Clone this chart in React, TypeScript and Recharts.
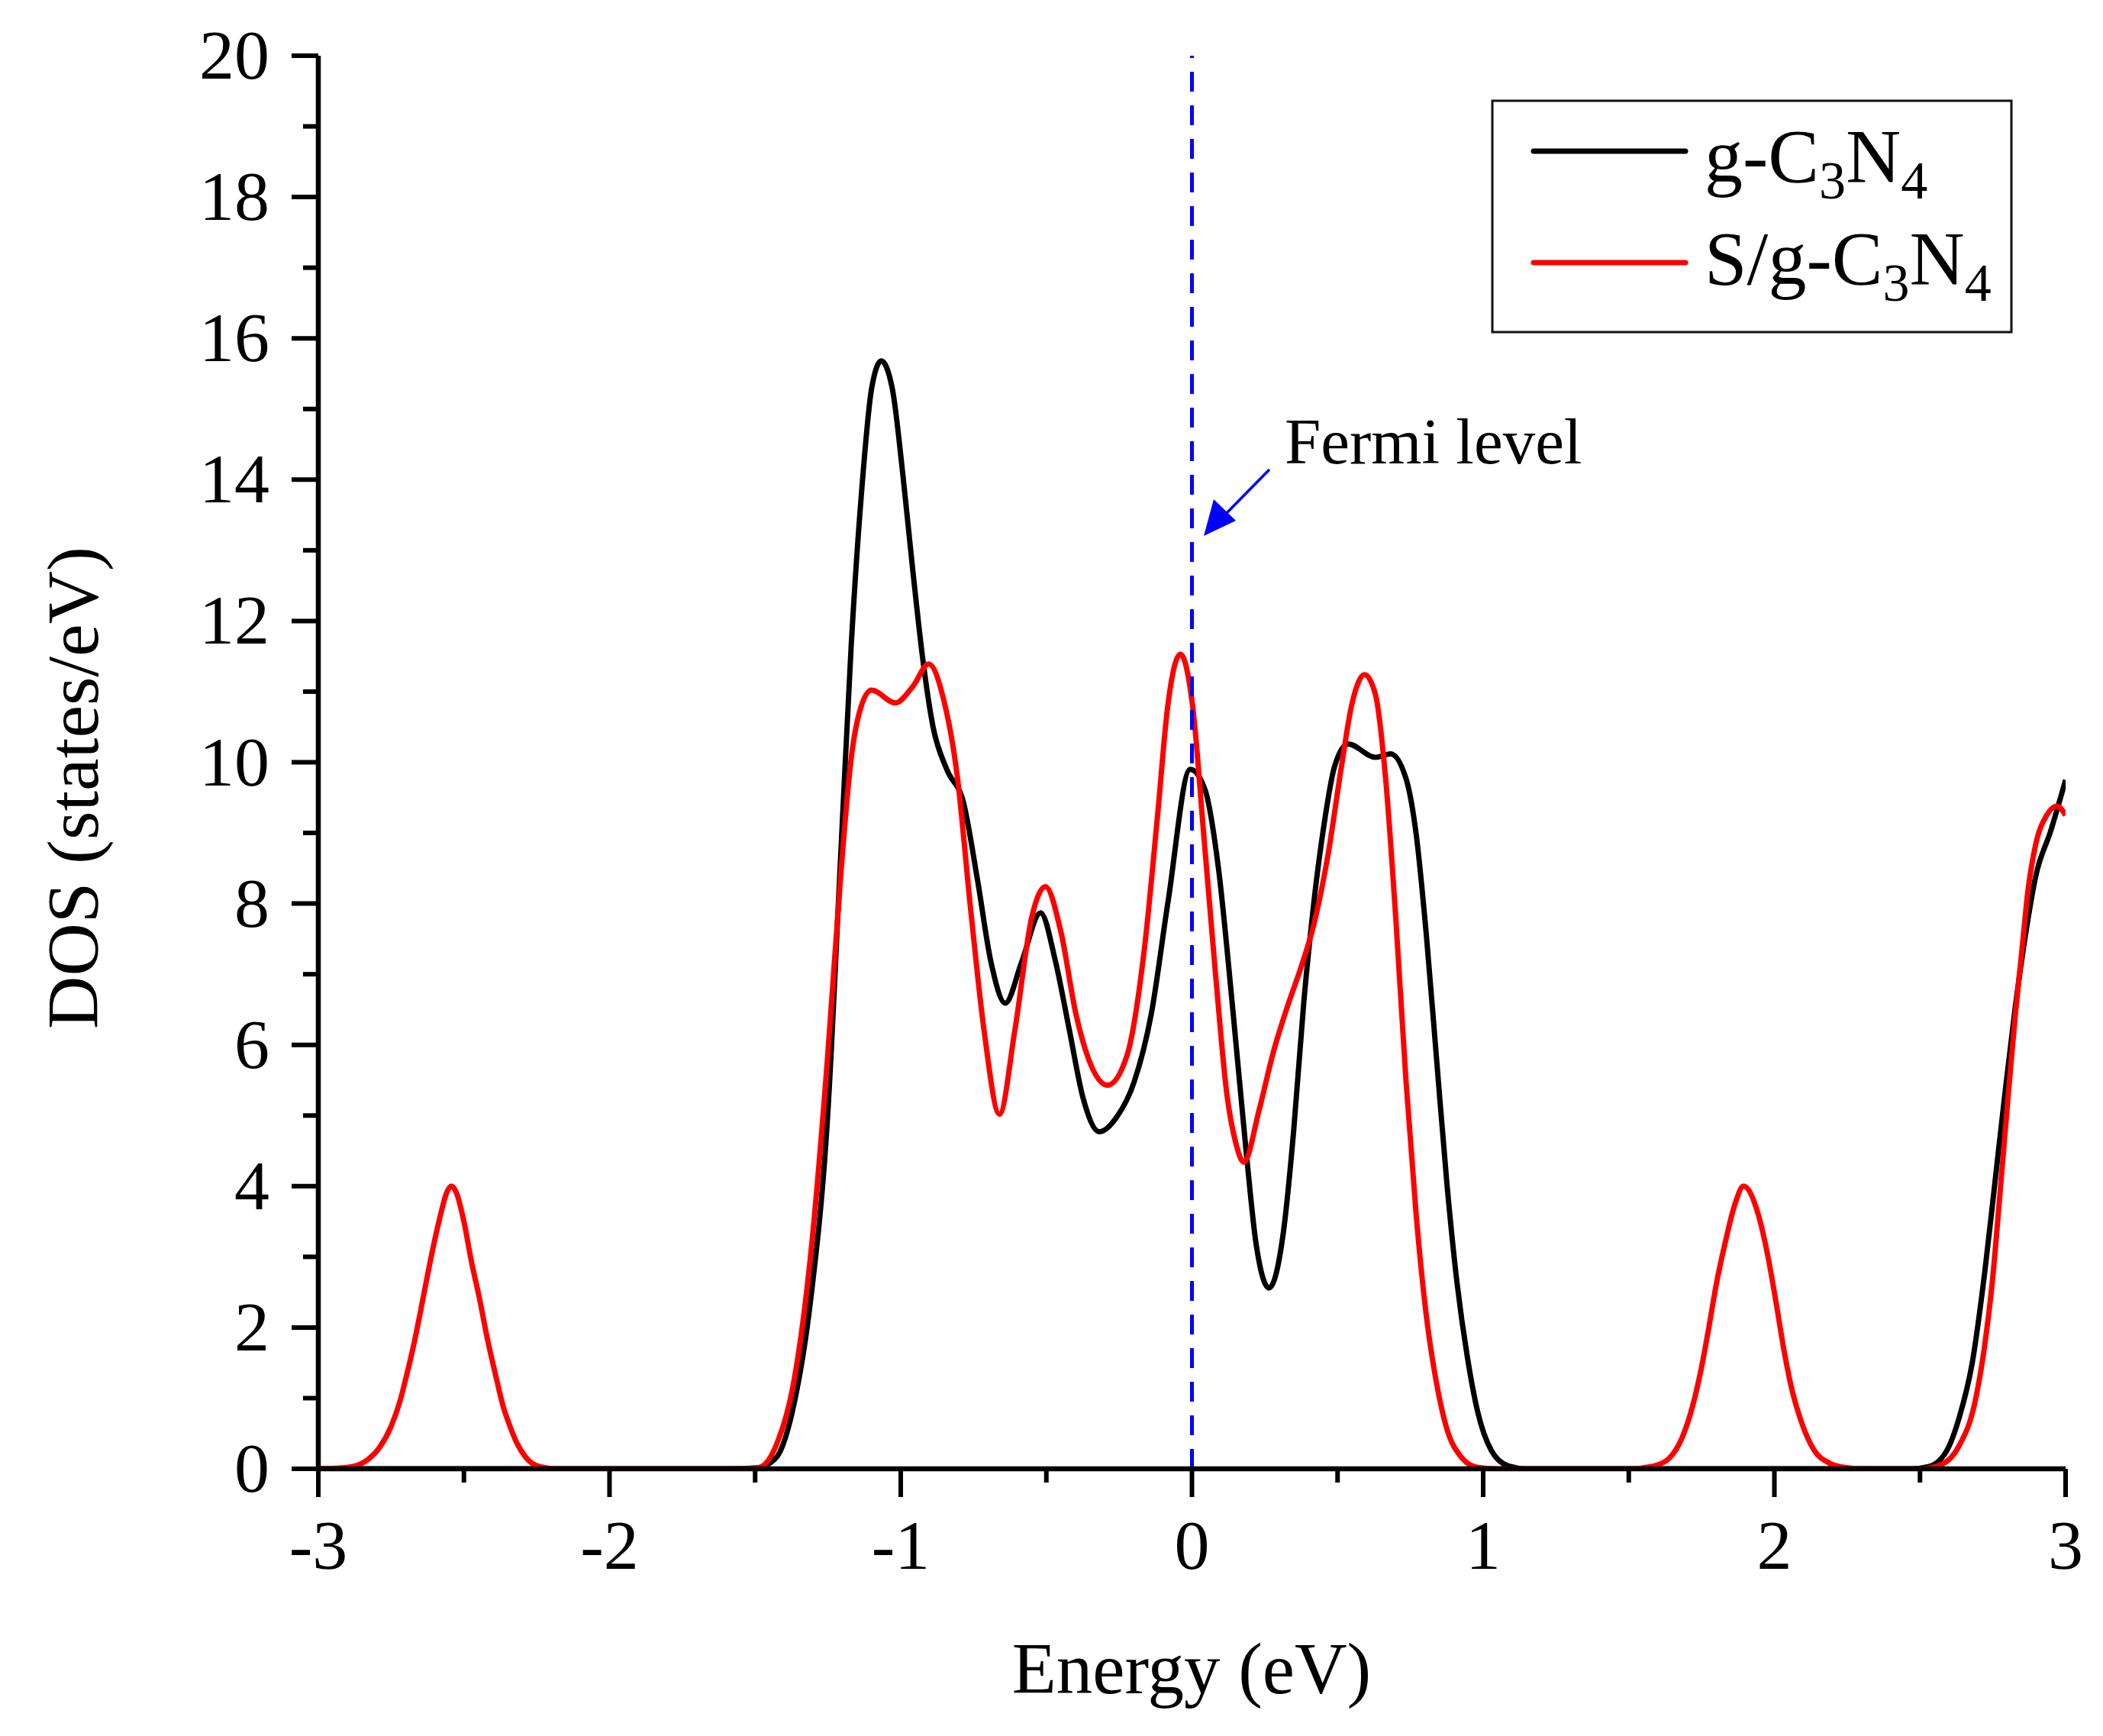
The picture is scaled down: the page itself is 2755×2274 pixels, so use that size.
import React from 'react';
import { LineChart, Line, XAxis, YAxis, ReferenceLine } from 'recharts';

// g-C3N4 (black)
const energyPure = [
  -3.0, -1.6, -1.5, -1.45, -1.416, -1.369, -1.31, -1.252, -1.205, -1.17, -1.135, -1.1, -1.067,
  -1.029, -0.994, -0.959, -0.924, -0.889, -0.842, -0.784, -0.737, -0.69, -0.641, -0.585, -0.52,
  -0.468, -0.421, -0.374, -0.318, -0.258, -0.199, -0.14, -0.082, -0.006, 0.045, 0.091, 0.138,
  0.185, 0.22, 0.265, 0.314, 0.349, 0.384, 0.419, 0.454, 0.489, 0.536, 0.63, 0.682, 0.735, 0.77,
  0.805, 0.84, 0.875, 0.91, 0.945, 0.981, 1.028, 1.087, 1.15, 2.47, 2.53, 2.591, 2.635, 2.679,
  2.722, 2.757, 2.792, 2.827, 2.862, 2.897, 2.949, 3.0,
];
const dosPure = [
  0, 0, 0.01, 0.08, 0.23, 0.87, 2.37, 4.93, 8.78, 11.66, 13.8, 15.29, 15.68,
  15.29, 14.12, 12.73, 11.45, 10.5, 9.9, 9.42, 8.35, 7.17, 6.59, 7.17, 7.87,
  7.17, 6.21, 5.25, 4.77, 4.98, 5.47, 6.43, 8.03, 9.9, 9.61, 8.5, 6.6,
  4.54, 3.19, 2.56, 3.35, 4.77, 6.6, 8.03, 9.13, 9.93, 10.26, 10.07, 10.12, 9.77, 8.98,
  7.55, 5.8, 4.06, 2.64, 1.6, 0.81, 0.26, 0.04, 0, 0, 0.03, 0.25, 0.73, 1.49,
  2.77, 4.04, 5.32, 6.53, 7.55, 8.38, 9.03, 9.75,
];

// S/g-C3N4 (red)
const energyDoped = [
  -3.0, -2.9, -2.83, -2.79, -2.75, -2.72, -2.7, -2.67, -2.64, -2.61, -2.58, -2.56, -2.543,
  -2.525, -2.5, -2.475, -2.447, -2.42, -2.388, -2.365, -2.347, -2.32, -2.287, -2.24, -2.18,
  -1.55, -1.486, -1.427, -1.369, -1.31, -1.252, -1.205, -1.17,
  -1.135, -1.1, -1.018, -0.959, -0.904, -0.854, -0.807, -0.76, -0.714, -0.661, -0.608, -0.55,
  -0.503, -0.45, -0.398, -0.355, -0.29, -0.223, -0.165, -0.118, -0.083, -0.04, 0.005, 0.04,
  0.081, 0.12, 0.15, 0.178, 0.232, 0.279, 0.326, 0.373, 0.419, 0.466, 0.513, 0.548, 0.593,
  0.63, 0.665, 0.7, 0.735, 0.77, 0.805, 0.84, 0.875, 0.922, 0.981, 1.05,
  1.5, 1.586, 1.639, 1.683, 1.718, 1.748, 1.775, 1.8, 1.831, 1.865, 1.894, 1.944, 1.98, 2.006,
  2.032, 2.058, 2.093, 2.137, 2.189, 2.24, 2.3,
  2.5, 2.573, 2.635, 2.687, 2.722, 2.748, 2.775, 2.801, 2.827, 2.849, 2.871, 2.897, 2.935,
  2.971, 3.0,
];
const dosDoped = [
  0, 0.02, 0.13, 0.3, 0.6, 0.95, 1.27, 1.8, 2.42, 3.05, 3.6, 3.9, 4.0,
  3.9, 3.5, 2.95, 2.42, 1.85, 1.27, 0.88, 0.66, 0.38, 0.16, 0.03, 0,
  0, 0.02, 0.34, 1.19, 3.0, 5.78, 8.46, 10.06,
  10.8, 11.02, 10.84, 11.07, 11.39, 10.91, 9.84, 7.92, 6.21, 5.02, 6.21, 7.81,
  8.24, 7.6, 6.43, 5.8, 5.43, 5.85, 7.3, 9.25, 10.8, 11.53, 10.7, 9.0,
  7.0, 5.3, 4.62, 4.34, 5.1, 5.89, 6.52, 7.08, 7.71, 8.66, 9.93, 10.8, 11.24,
  10.96, 9.77, 7.79, 5.49, 3.59, 2.16, 1.21, 0.57, 0.18, 0.02, 0,
  0, 0.04, 0.15, 0.44, 0.87, 1.4, 2.0, 2.6, 3.2, 3.75, 4.0, 3.61, 2.96, 2.35,
  1.7, 1.16, 0.66, 0.26, 0.08, 0.02, 0,
  0, 0.06, 0.33, 0.91, 1.74, 2.63, 3.91, 5.19, 6.41, 7.3, 8.19, 8.83, 9.25,
  9.38, 9.25,
];

const xTicks = [-3, -2.5, -2, -1.5, -1, -0.5, 0, 0.5, 1, 1.5, 2, 2.5, 3];
const yTicks = [0, 1, 2, 3, 4, 5, 6, 7, 8, 9, 10, 11, 12, 13, 14, 15, 16, 17, 18, 19, 20];

const pureData = energyPure.map((e, i) => ({ e, v: dosPure[i] }));
const dopedData = energyDoped.map((e, i) => ({ e, v: dosDoped[i] }));

const FONT = 'Liberation Serif, Times New Roman, serif';

const XTick = (props: any) => {
  const { x, y, payload } = props;
  const major = Number.isInteger(payload.value);
  return (
    <g>
      <line x1={x} x2={x} y1={y} y2={y + (major ? 37 : 18)} stroke="#000" strokeWidth={6} />
      {major && (
        <text x={x} y={y + 131} textAnchor="middle" fontFamily={FONT} fontSize={92} fill="#000">
          {payload.value}
        </text>
      )}
    </g>
  );
};

const YTick = (props: any) => {
  const { x, y, payload } = props;
  const major = payload.value % 2 === 0;
  return (
    <g>
      <line x1={x} x2={x - (major ? 35 : 20)} y1={y} y2={y} stroke="#000" strokeWidth={6} />
      {major && (
        <text x={x - 64} y={y + 30} textAnchor="end" fontFamily={FONT} fontSize={92} fill="#000">
          {payload.value}
        </text>
      )}
    </g>
  );
};

export default function App() {
  return (
    <div style={{ position: 'relative', width: 2740, height: 2258, background: '#fff' }}>
      <LineChart
        width={2740}
        height={2258}
        margin={{ top: 65, right: 42, bottom: 192, left: 0 }}
      >
        <XAxis
          dataKey="e"
          type="number"
          domain={[-3, 3]}
          ticks={xTicks}
          interval={0}
          allowDataOverflow
          height={150}
          tickSize={0}
          tickMargin={0}
          tickLine={false}
          tick={<XTick />}
          axisLine={{ stroke: '#000', strokeWidth: 6.5 }}
        />
        <XAxis
          xAxisId="top"
          orientation="top"
          type="number"
          domain={[-3, 3]}
          height={0}
          tick={false}
          tickLine={false}
          axisLine={{ stroke: '#000', strokeWidth: 6.5 }}
        />
        <YAxis
          type="number"
          domain={[0, 20]}
          ticks={yTicks}
          interval={0}
          allowDataOverflow
          width={409}
          tickSize={0}
          tickMargin={0}
          tickLine={false}
          tick={<YTick />}
          axisLine={{ stroke: '#000', strokeWidth: 6.5 }}
        />
        <YAxis
          yAxisId="right"
          orientation="right"
          type="number"
          domain={[0, 20]}
          width={0}
          tick={false}
          tickLine={false}
          axisLine={{ stroke: '#000', strokeWidth: 6.5 }}
        />
        <Line
          data={pureData}
          dataKey="v"
          type="monotone"
          stroke="#000000"
          strokeWidth={7}
          dot={false}
          isAnimationActive={false}
        />
        <Line
          data={dopedData}
          dataKey="v"
          type="monotone"
          stroke="#ff0000"
          strokeWidth={7}
          dot={false}
          isAnimationActive={false}
        />
        <ReferenceLine x={0} stroke="#0000ff" strokeWidth={5} strokeDasharray="26 18" />
      </LineChart>

      <svg
        width={2740}
        height={2258}
        style={{ position: 'absolute', left: 0, top: 0, pointerEvents: 'none' }}
      >
        {/* axis titles */}
        <text x={1553} y={2210} textAnchor="middle" fontFamily={FONT} fontSize={95} fill="#000">
          Energy (eV)
        </text>
        <text
          x={120}
          y={1024}
          textAnchor="middle"
          fontFamily={FONT}
          fontSize={96}
          fill="#000"
          transform="rotate(-90 120 1024)"
        >
          DOS (states/eV)
        </text>

        {/* Fermi level annotation */}
        <text x={1675} y={599} fontFamily={FONT} fontSize={85} fill="#000">
          Fermi level
        </text>
        <line x1={1655} y1={607} x2={1597} y2={666} stroke="#0000ff" strokeWidth={3.5} />
        <polygon points="1569,694 1582,646 1611,674" fill="#0000ff" />

        {/* legend */}
        <rect x={1947} y={124} width={680} height={303} fill="#fff" stroke="#111" strokeWidth={3} />
        <line x1={2001} x2={2200} y1={190} y2={190} stroke="#000" strokeWidth={7} strokeLinecap="round" />
        <line x1={2001} x2={2200} y1={336} y2={336} stroke="#ff0000" strokeWidth={7} strokeLinecap="round" />
        <text x={2225} y={230} fontFamily={FONT} fontSize={100} fill="#000">
          g-C<tspan fontSize={70} dy={22}>3</tspan>
          <tspan dy={-22}>N</tspan>
          <tspan fontSize={70} dy={22}>4</tspan>
        </text>
        <text x={2225} y={364} fontFamily={FONT} fontSize={100} fill="#000">
          S/g-C<tspan fontSize={70} dy={22}>3</tspan>
          <tspan dy={-22}>N</tspan>
          <tspan fontSize={70} dy={22}>4</tspan>
        </text>
      </svg>
    </div>
  );
}
